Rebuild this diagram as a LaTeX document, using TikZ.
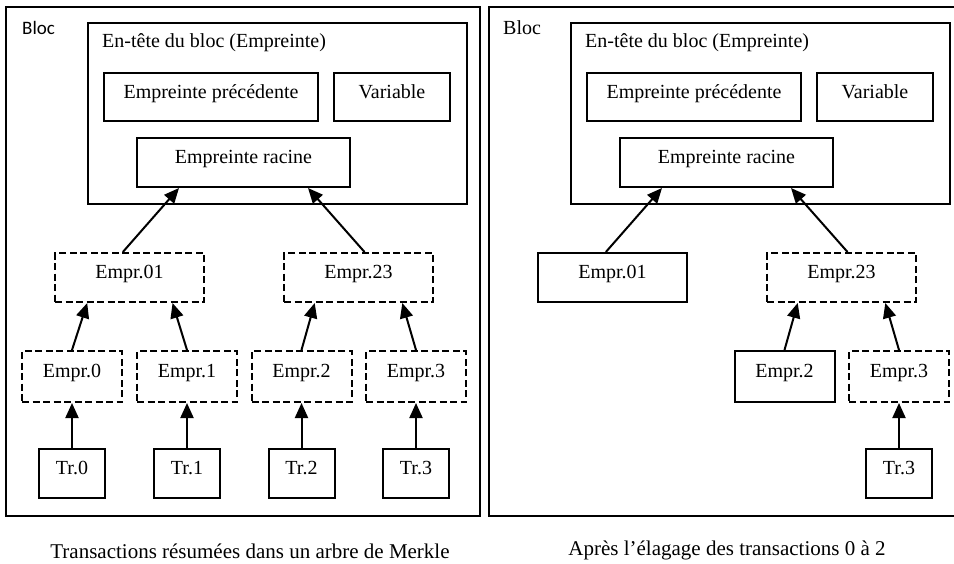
\documentclass[tikz,border=0pt]{standalone}
\usepackage{fontspec}
\setmainfont{Liberation Serif}
\newfontfamily\blocsans{Carlito}
\usetikzlibrary{arrows.meta,calc}
\begin{document}
\begin{tikzpicture}[x=1pt,y=-1pt,
  box/.style={draw,line width=2pt,rectangle,inner sep=0pt,text height=13pt,text depth=11pt,font=\fontsize{20}{24}\selectfont},
  dbox/.style={box,dash pattern=on 7pt off 3.5pt},
  panel/.style={draw,line width=2.4pt},
  arr/.style={line width=2pt,-{Triangle[length=15pt,width=13pt]}},
  lbl/.style={inner sep=0pt,anchor=west,font=\fontsize{20}{24}\selectfont},
  captext/.style={inner sep=0pt,font=\fontsize{21}{25}\selectfont}]
\useasboundingbox (0,0) rectangle (954,563);
\fill[white] (0,0) rectangle (954,563);
% panels
\draw[panel] (6,7) rectangle (480,516);
\draw[panel] (955,7) -- (489,7) -- (489,516) -- (955,516);
% ================= left panel
\node[inner sep=0pt,anchor=west,font=\blocsans\fontsize{19}{22}\selectfont] (Lbloc) at (22,28) {Bloc};
\node[box,minimum width=379pt,minimum height=181pt] (Lhdr) at (277.5,113.5) {};
\node[lbl] (Lhdrt) at (102,43) {En-tête du bloc (Empreinte)};
\node[box,minimum width=214pt,minimum height=48pt] (Lprev) at (211,97) {Empreinte précédente};
\node[box,minimum width=116pt,minimum height=48pt] (Lvar) at (392,97) {Variable};
\node[box,minimum width=213pt,minimum height=49pt] (Lroot) at (243.5,162.5) {Empreinte racine};
\node[dbox,minimum width=149pt,minimum height=49pt] (Le01) at (129.5,277.5) {Empr.01};
\node[dbox,minimum width=149pt,minimum height=49pt] (Le23) at (358.5,277.5) {Empr.23};
\node[dbox,minimum width=100pt,minimum height=51pt] (Le0) at (72,376.5) {Empr.0};
\node[dbox,minimum width=100pt,minimum height=51pt] (Le1) at (187,376.5) {Empr.1};
\node[dbox,minimum width=100pt,minimum height=51pt] (Le2) at (301.5,376.5) {Empr.2};
\node[dbox,minimum width=100pt,minimum height=51pt] (Le3) at (416,376.5) {Empr.3};
\node[box,minimum width=66pt,minimum height=49pt] (Lt0) at (72,473.5) {Tr.0};
\node[box,minimum width=66pt,minimum height=49pt] (Lt1) at (187,473.5) {Tr.1};
\node[box,minimum width=66pt,minimum height=49pt] (Lt2) at (301.5,473.5) {Tr.2};
\node[box,minimum width=66pt,minimum height=49pt] (Lt3) at (416,473.5) {Tr.3};
\draw[arr] ($(Le01.north west)!0.456!(Le01.north east)$) -- ($(Lroot.south west)!0.2!(Lroot.south east)$);
\draw[arr] ($(Le23.north west)!0.54!(Le23.north east)$) -- ($(Lroot.south west)!0.8!(Lroot.south east)$);
\draw[arr] (Le0.north) -- ($(Le01.south west)!0.22!(Le01.south east)$);
\draw[arr] (Le1.north) -- ($(Le01.south west)!0.785!(Le01.south east)$);
\draw[arr] (Le2.north) -- ($(Le23.south west)!0.21!(Le23.south east)$);
\draw[arr] (Le3.north) -- ($(Le23.south west)!0.79!(Le23.south east)$);
\draw[arr] (Lt0.north) -- (Le0.south);
\draw[arr] (Lt1.north) -- (Le1.south);
\draw[arr] (Lt2.north) -- (Le2.south);
\draw[arr] (Lt3.north) -- (Le3.south);
% ================= right panel
\node[inner sep=0pt,anchor=west,font=\fontsize{20}{24}\selectfont] (Rbloc) at (503,28) {Bloc};
\node[box,minimum width=379pt,minimum height=181pt] (Rhdr) at (760.5,113.5) {};
\node[lbl] (Rhdrt) at (585,43) {En-tête du bloc (Empreinte)};
\node[box,minimum width=214pt,minimum height=48pt] (Rprev) at (694,97) {Empreinte précédente};
\node[box,minimum width=116pt,minimum height=48pt] (Rvar) at (875,97) {Variable};
\node[box,minimum width=213pt,minimum height=49pt] (Rroot) at (726.5,162.5) {Empreinte racine};
\node[box,minimum width=149pt,minimum height=49pt] (Re01) at (612.5,277.5) {Empr.01};
\node[dbox,minimum width=149pt,minimum height=49pt] (Re23) at (841.5,277.5) {Empr.23};
\node[box,minimum width=100pt,minimum height=51pt] (Re2) at (784.5,376.5) {Empr.2};
\node[dbox,minimum width=100pt,minimum height=51pt] (Re3) at (899,376.5) {Empr.3};
\node[box,minimum width=66pt,minimum height=49pt] (Rt3) at (899,473.5) {Tr.3};
\draw[arr] ($(Re01.north west)!0.456!(Re01.north east)$) -- ($(Rroot.south west)!0.2!(Rroot.south east)$);
\draw[arr] ($(Re23.north west)!0.54!(Re23.north east)$) -- ($(Rroot.south west)!0.8!(Rroot.south east)$);
\draw[arr] (Re2.north) -- ($(Re23.south west)!0.21!(Re23.south east)$);
\draw[arr] (Re3.north) -- ($(Re23.south west)!0.79!(Re23.south east)$);
\draw[arr] (Rt3.north) -- (Re3.south);
% captions
\node[captext] (cap1) at (250,551) {Transactions résumées dans un arbre de Merkle};
\node[captext] (cap2) at (727,550) {Après l’élagage des transactions 0 à 2};
\end{tikzpicture}
\end{document}
